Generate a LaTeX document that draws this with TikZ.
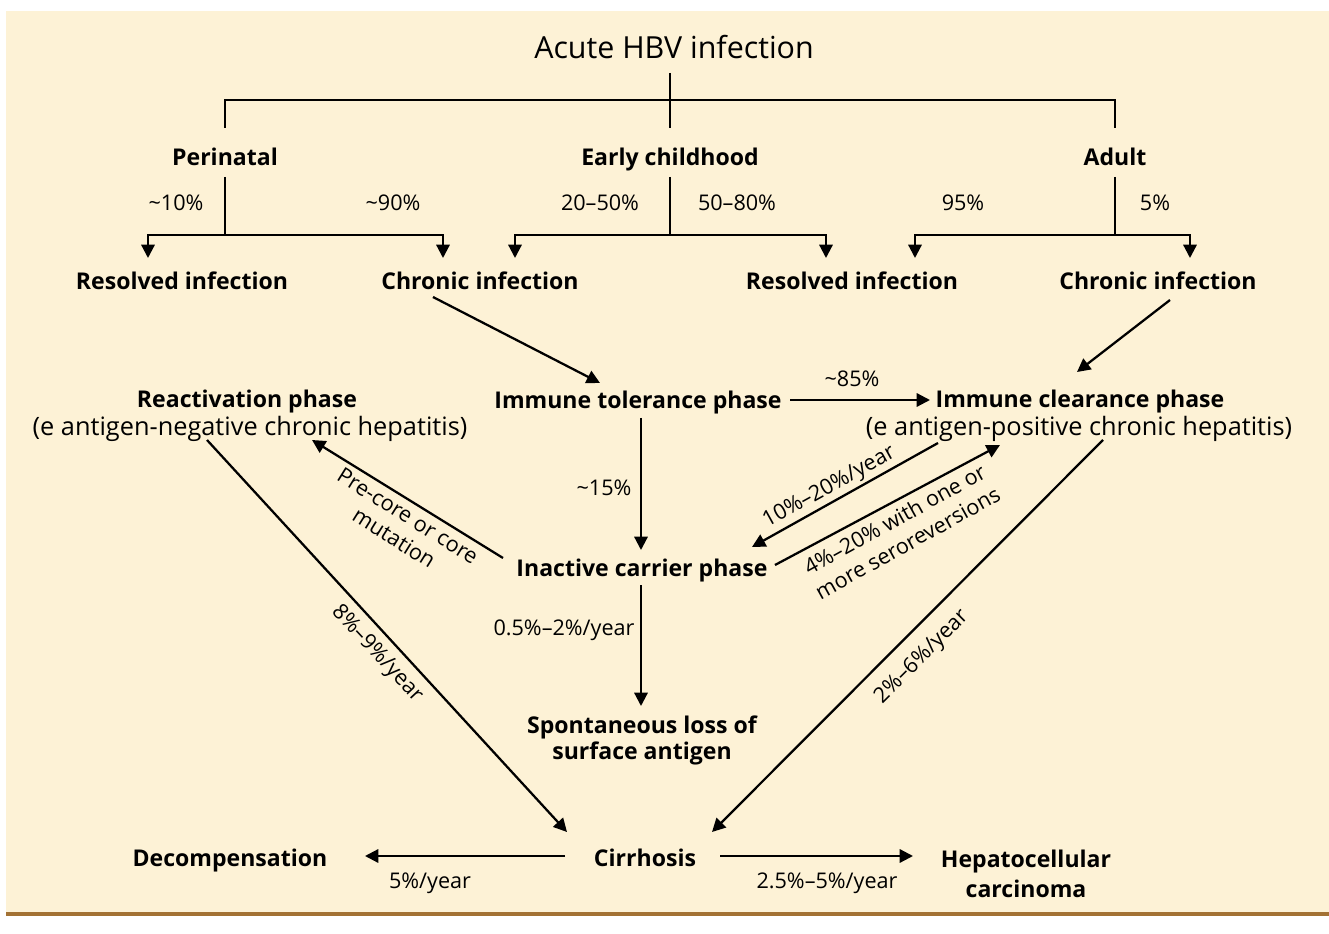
\documentclass[tikz,border=0pt]{standalone}
\usepackage{fontspec}
\setmainfont{Open Sans}
\usetikzlibrary{arrows.meta,calc}
\definecolor{bgc}{RGB}{253,242,214}
\definecolor{brownline}{RGB}{163,114,52}
\begin{document}
\begin{tikzpicture}[x=0.75pt,y=-0.75pt,
  every node/.style={inner sep=0pt, text=black},
  fx/.style={text height=#1, text depth=0pt},
  bl/.style={fx=13.1pt, font=\fontsize{17.3}{20}\selectfont\bfseries},
  blm/.style={align=center, font=\fontsize{17.3}{#1}\selectfont\bfseries},
  rg/.style={fx=14.4pt, font=\fontsize{19}{22}\selectfont},
  ttl/.style={fx=17.3pt, font=\fontsize{22.8}{26}\selectfont},
  sm/.style={fx=12.3pt, font=\fontsize{16.2}{19}\selectfont},
  smm/.style={align=center, font=\fontsize{16.2}{#1}\selectfont},
  ln/.style={line width=1.7pt},
  arr/.style={line width=1.7pt,-{Triangle[length=10pt,width=10pt]}}]
\useasboundingbox (0,0) rectangle (1329,934);
\fill[bgc] (6,11) rectangle (1329,912);
\fill[brownline] (6,912) rectangle (1329,916);

% nodes
\node[ttl] (acute) at (674,47) {Acute HBV infection};
\node[bl] (peri) at (225,157) {Perinatal};
\node[bl] (early) at (670,157) {Early childhood};
\node[bl] (adult) at (1115,157) {Adult};
\node[sm] (p10) at (176,202) {\textasciitilde10\%};
\node[sm] (p90) at (393,202) {\textasciitilde90\%};
\node[sm] (e2050) at (600,202) {20–50\%};
\node[sm] (e5080) at (737,202) {50–80\%};
\node[sm] (a95) at (963,202) {95\%};
\node[sm] (a5) at (1155,202) {5\%};
\node[bl] (res1) at (182,281) {Resolved infection};
\node[bl] (chr1) at (480,281) {Chronic infection};
\node[bl] (res2) at (852,281) {Resolved infection};
\node[bl] (chr2) at (1158,281) {Chronic infection};
\node[bl] (react) at (247,399) {Reactivation phase};
\node[rg] (reactsub) at (250,426) {(e antigen-negative chronic hepatitis)};
\node[bl] (tol) at (638,400) {Immune tolerance phase};
\node[sm] (p85) at (852,378) {\textasciitilde85\%};
\node[bl] (clear) at (1080,399) {Immune clearance phase};
\node[rg] (clearsub) at (1079,426) {(e antigen-positive chronic hepatitis)};
\node[sm] (p15) at (604,487) {\textasciitilde15\%};
\node[bl] (inact) at (642,568) {Inactive carrier phase};
\node[sm] (p05) at (564,627) {0.5\%–2\%/year};
\node[blm=19.5] (spont) at (642,740) {Spontaneous loss of\\surface antigen};
\node[bl] (cirr) at (645,858) {Cirrhosis};
\node[bl] (decomp) at (230,858) {Decompensation};
\node[blm=22.5] (hcc) at (1026,874) {Hepatocellular\\carcinoma};
\node[sm] (p5y) at (430,880) {5\%/year};
\node[sm] (p25) at (827,880) {2.5\%–5\%/year};

% rotated labels
\node[smm=19.5, rotate=-32] (lpre) at (401,527) {Pre-core or core\\mutation};
\node[sm, rotate=29] (l1020) at (828,485) {10\%–20\%/year};
\node[smm=20, rotate=29] (l420) at (901,531) {4\%–20\% with one or\\more seroreversions};
\node[sm, rotate=-47] (l89) at (379,652) {8\%–9\%/year};
\node[sm, rotate=45] (l26) at (920,655) {2\%–6\%/year};

% tree top
\coordinate (j0) at (670,100);
\draw[ln] ($(acute)+(-4,26)$) -- (j0);
\draw[ln] ($(peri)+(0,-29)$) |- (j0) -| ($(adult)+(0,-29)$);
\draw[ln] (j0) -- ($(early)+(0,-29)$);

% perinatal branch
\coordinate (pj) at (225,235);
\draw[ln] ($(peri)+(0,20)$) -- (pj);
\draw[arr] (pj) -| ($(res1)+(-34,-23)$);
\draw[arr] (pj) -| ($(chr1)+(-37,-23)$);
% early childhood branch
\coordinate (ej) at (670,235);
\draw[ln] ($(early)+(0,20)$) -- (ej);
\draw[arr] (ej) -| ($(chr1)+(35,-23)$);
\draw[arr] (ej) -| ($(res2)+(-26,-23)$);
% adult branch
\coordinate (aj) at (1115,235);
\draw[ln] ($(adult)+(0,20)$) -- (aj);
\draw[arr] (aj) -| ($(res2)+(63,-23)$);
\draw[arr] (aj) -| ($(chr2)+(32,-23)$);

% chronic to phases
\draw[arr] ($(chr1)+(-47,16)$) -- ($(tol)+(-38,-17)$);
\draw[arr] ($(chr2)+(12,19)$) -- ($(clear)+(-3,-27)$);
\draw[arr] ($(tol)+(152,0)$) -- ($(clear)+(-150,1)$);

% vertical
\draw[arr] ($(tol)+(3,18)$) -- ($(inact)+(-1,-18)$);
\draw[arr] ($(inact)+(-1,17)$) -- ($(spont)+(-1,-34)$);

% inactive to reactivation
\draw[arr] ($(inact)+(-139,-10)$) -- ($(reactsub)+(62,14)$);
% clearance <-> inactive
\draw[arr] ($(clearsub)+(-141,17)$) -- ($(inact)+(110,-21)$);
\draw[arr] ($(inact)+(133,-3)$) -- ($(clearsub)+(-79,19)$);

% to cirrhosis
\draw[arr] ($(reactsub)+(-43,14)$) -- ($(cirr)+(-78,-26)$);
\draw[arr] ($(clearsub)+(24,14)$) -- ($(cirr)+(67,-26)$);

% from cirrhosis
\draw[arr] ($(cirr)+(-80,-2)$) -- ($(decomp)+(135,-2)$);
\draw[arr] ($(cirr)+(75,-2)$) -- ($(hcc)+(-113,-18)$);
\end{tikzpicture}
\end{document}
